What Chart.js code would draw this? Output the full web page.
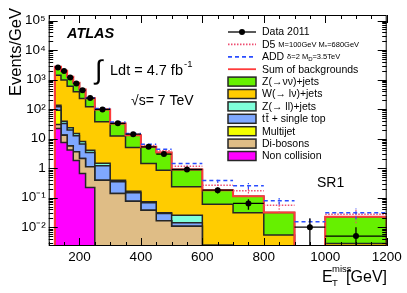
<!DOCTYPE html>
<html>
<head>
<meta charset="utf-8">
<script src="https://cdn.jsdelivr.net/npm/chart.js@4.4.1/dist/chart.umd.min.js"></script>
<style>
html, body { margin: 0; padding: 0; background: #fff; }
canvas { display: block; }
</style>
</head>
<body>
<canvas id="met-chart" width="407" height="293"></canvas>
<script>
// MET bin edges [GeV]
var binEdges = [120,140,160,180,200,220,250,300,350,400,450,500,600,700,800,900,1000,1200];

// backgrounds, Events/GeV per bin
var zNuNu    = [1300,1030,645,394,234,116,60,20.4,8.1,3.84,2.55,0.67,0.12,0.081,0.026,0,0.0196];
var wLNu     = [1284,923,579,372,222,116,35.7,11.8,4.85,1.37,0.82,0.21,0.0575,0.0306,0.0054,0,0.0028];
var zLL      = [17,6.6,3.9,2.5,1.5,0.67,0.28,0.048,0.02,0.0054,0.0015,0.0115,0,0,0,0,0];
var topQuark = [27.5,19.2,13.8,8.9,4.4,2.3,0.81,0.206,0.07,0.029,0.0127,0.0032,0,0,0,0,0];
var multijet = [62,0.3,0.1,0,0,0,0,0,0,0,0,0,0,0,0,0,0];
var diboson  = [8.2,5.7,1.5,1.8,1.47,0.89,0.39,0.138,0.076,0.0377,0.0164,0.0108,0.0024,0,0,0,0];
var nonColl  = [22,7.4,4.1,1.8,0.66,0.22,0,0,0,0,0,0,0,0,0,0,0];

// data and signals (signal + background)
var data2011 = [2600,1950,1180,740,440,237,98,33,14.2,5.3,3.0,0.9,0.18,0.064,null,0.01,0.005];
var dataErr  = [11.4,9.9,7.7,6.1,4.7,2.8,1.4,0.81,0.53,0.33,0.245,0.095,0.042,0.025,null,0.01,0.005];
var sigADD   = [2740,2010,1260,790,470,240,105,36.3,15,6.5,4.4,1.44,0.382,0.252,0.078,0.0152,0.0306];
var errADD   = [3,3,2,2,1.5,1,0.8,0.4,0.25,0.12,0.1,0.06,0.06,0.06,0.02,0.005,0.012];
var sigD5    = [2730,2000,1255,786,467,239,100,34.4,14.2,5.9,3.87,1.17,0.265,0.17,0.0557,null,0.0276];
var errD5    = [3,3,2,2,1.5,1,0.8,0.4,0.25,0.12,0.1,0.07,0.07,0.06,0.025,null,0.014];

var xTicks = [200,400,600,800,1000,1200];
var yTicks = [0.01,0.1,1,10,100,1000,10000,100000];
var yTickLabels = ['10\u207B\u00B2','10\u207B\u00B9','1','10','10\u00B2','10\u00B3','10\u2074','10\u2075'];

var stackLabels = ['Non collision','Di-bosons','Multijet','t\u200At\u0304 + single top','Z(\u2192 ll)+jets','W(\u2192 l\u03BD)+jets','Z(\u2192\u03BD\u03BD)+jets'];
var stackColors = ['#ff00ff','#dfbd86','#f4ff00','#7fa8ff','#7fffda','#ffcc00','#66f000'];

var FONT = "'Liberation Sans', Arial, Helvetica, sans-serif";
var yMin = 0.0023, yMax = 1.55e5;
var redSum = '#ff3b3b', blueADD = '#2a4dff', pinkD5 = '#ee4d70';

var stackLayers = [nonColl, diboson, multijet, topQuark, zLL, wLNu, zNuNu];
var cum = [];
var run = zNuNu.map(function () { return 0; });
stackLayers.forEach(function (layer) {
  run = run.map(function (v, i) { return v + layer[i]; });
  cum.push(run);
});
var bkgSum = cum[cum.length - 1];

function centre(i) { return (binEdges[i] + binEdges[i + 1]) / 2; }
function clampLow(v) { return v > yMin ? v : yMin; }

function histPoints(vals) {
  var n = binEdges.length - 1;
  var pts = [{x: binEdges[0], y: yMin}];
  vals.forEach(function (v, i) { pts.push({x: binEdges[i], y: clampLow(v)}); });
  pts.push({x: binEdges[n], y: clampLow(vals[n - 1])});
  pts.push({x: binEdges[n], y: yMin});
  return pts;
}
function binSegments(vals) {
  var pts = [];
  vals.forEach(function (v, i) {
    if (v == null) return;
    pts.push({x: binEdges[i], y: v}, {x: binEdges[i + 1], y: v}, {x: binEdges[i + 1], y: null});
  });
  return pts;
}
function errSegments(vals, errs) {
  var pts = [];
  vals.forEach(function (v, i) {
    if (v == null || !errs[i]) return;
    var c = centre(i);
    pts.push({x: c, y: clampLow(v - errs[i])}, {x: c, y: v + errs[i]}, {x: c, y: null});
  });
  return pts;
}

var datasets = [];
datasets.push({
  data: data2011.map(function (v, i) { return {x: centre(i), y: v}; }),
  showLine: false, pointRadius: 3, pointBackgroundColor: '#000', pointBorderWidth: 0
});
datasets.push({data: binSegments(data2011), borderColor: '#000', borderWidth: 1.3});
datasets.push({data: errSegments(data2011, dataErr), borderColor: '#000', borderWidth: 1.3});
datasets.push({data: binSegments(sigADD), borderColor: blueADD, borderWidth: 1.5, borderDash: [4, 3]});
datasets.push({data: errSegments(sigADD, errADD), borderColor: blueADD, borderWidth: 1.2, borderDash: [3, 2]});
datasets.push({data: binSegments(sigD5), borderColor: pinkD5, borderWidth: 1.5, borderDash: [1.5, 1.5]});
datasets.push({data: errSegments(sigD5, errD5), borderColor: pinkD5, borderWidth: 1.2, borderDash: [1.5, 1.5]});
datasets.push({data: histPoints(bkgSum), borderColor: redSum, borderWidth: 2, stepped: true});
cum.forEach(function (c, k) {
  datasets.push({
    data: histPoints(c), stepped: true, fill: 'start',
    backgroundColor: stackColors[k], borderColor: '#262626', borderWidth: 1.5
  });
});

function drawRuns(ctx, x, y, runs, align) {
  var total = 0;
  runs.forEach(function (r) {
    ctx.font = (r[3] || '') + ' ' + r[1] + 'px ' + FONT;
    r.w = ctx.measureText(r[0]).width;
    total += r.w;
  });
  var cx = align === 'right' ? x - total : x;
  ctx.textAlign = 'left';
  runs.forEach(function (r) {
    ctx.font = (r[3] || '') + ' ' + r[1] + 'px ' + FONT;
    ctx.fillText(r[0], cx, y + (r[2] || 0));
    cx += r.w;
  });
}

var rootStyle = {
  id: 'rootStyle',
  afterDatasetsDraw: function (chart) {
    var ctx = chart.ctx, a = chart.chartArea, xs = chart.scales.x, ys = chart.scales.y;
    ctx.save();
    ctx.strokeStyle = '#000';
    ctx.lineWidth = 1;
    ctx.strokeRect(a.left + 0.5, a.top + 0.5, a.right - a.left - 1, a.bottom - a.top - 1);
    ctx.beginPath();
    var v, px, len;
    for (v = 100; v <= 1200; v += 50) {
      px = Math.round(xs.getPixelForValue(v)) + 0.5;
      len = v % 200 === 0 ? 8 : 4;
      ctx.moveTo(px, a.bottom); ctx.lineTo(px, a.bottom - len);
      ctx.moveTo(px, a.top); ctx.lineTo(px, a.top + len);
    }
    for (var e = -3; e <= 5; e++) {
      for (var m = 1; m <= 9; m++) {
        v = m * Math.pow(10, e);
        if (v < yMin || v > yMax) continue;
        var py = Math.round(ys.getPixelForValue(v)) + 0.5;
        len = m === 1 ? 9 : 4.5;
        ctx.moveTo(a.left, py); ctx.lineTo(a.left + len, py);
        ctx.moveTo(a.right, py); ctx.lineTo(a.right - len, py);
      }
    }
    ctx.stroke();
    ctx.restore();
  },
  afterDraw: function (chart) {
    var ctx = chart.ctx;
    ctx.save();
    ctx.fillStyle = '#000';
    ctx.textBaseline = 'alphabetic';

    // axis titles
    drawRuns(ctx, 322, 282, [['E', 16]], 'left');
    drawRuns(ctx, 332, 272, [['miss', 9.5]], 'left');
    drawRuns(ctx, 332, 286, [['T', 9.5]], 'left');
    drawRuns(ctx, 387, 282, [['[GeV]', 16]], 'right');

    ctx.save();
    ctx.translate(21, 8);
    ctx.rotate(-Math.PI / 2);
    ctx.textAlign = 'right';
    ctx.font = '16.5px ' + FONT;
    ctx.fillText('Events/GeV', 0, 0);
    ctx.restore();

    // annotations
    drawRuns(ctx, 67, 38, [['ATLAS', 14.5, 0, 'italic bold']], 'left');
    ctx.font = '27px ' + FONT;
    ctx.fillText('\u222B', 95, 79);
    drawRuns(ctx, 110, 75, [['Ldt = 4.7 fb', 14.5]], 'left');
    drawRuns(ctx, 184, 67, [['-1', 9.5]], 'left');
    drawRuns(ctx, 131, 105, [['\u221As= 7 TeV', 14]], 'left');
    drawRuns(ctx, 317, 187, [['SR1', 14]], 'left');

    // legend
    var x0 = 228, x1 = 256, tx = 262, y0 = 32, dy = 12.4;
    var rows = [
      {kind: 'data', runs: [['Data 2011', 10.5]]},
      {kind: 'line', color: pinkD5, dash: [1.5, 1.5], runs: [['D5 ', 10.5], ['M=100GeV M', 7.5], ['*', 6, 2], ['=680GeV', 7.5]]},
      {kind: 'line', color: blueADD, dash: [4, 3], runs: [['ADD ', 10.5], ['\u03B4=2 M', 7.5], ['D', 6, 2], ['=3.5TeV', 7.5]]},
      {kind: 'line', color: redSum, dash: [], runs: [['Sum of backgrounds', 10.5]]}
    ];
    for (var k = stackLabels.length - 1; k >= 0; k--) {
      rows.push({kind: 'box', color: stackColors[k], runs: [[stackLabels[k], 10.5]]});
    }
    rows.forEach(function (r, i) {
      var y = y0 + i * dy;
      ctx.save();
      if (r.kind === 'box') {
        ctx.fillStyle = r.color;
        ctx.fillRect(x0, y - 4.5, x1 - x0, 9);
        ctx.strokeStyle = '#262626';
        ctx.lineWidth = 1.5;
        ctx.strokeRect(x0, y - 4.5, x1 - x0, 9);
      } else {
        ctx.strokeStyle = r.kind === 'data' ? '#000' : r.color;
        ctx.lineWidth = r.kind === 'data' ? 1.3 : 1.8;
        ctx.setLineDash(r.dash || []);
        ctx.beginPath();
        ctx.moveTo(x0, y); ctx.lineTo(x1, y);
        ctx.stroke();
        if (r.kind === 'data') {
          ctx.fillStyle = '#000';
          ctx.beginPath();
          ctx.arc((x0 + x1) / 2, y, 3, 0, Math.PI * 2);
          ctx.fill();
        }
      }
      ctx.restore();
      ctx.fillStyle = '#000';
      ctx.textBaseline = 'middle';
      drawRuns(ctx, tx, y + 0.5, r.runs, 'left');
    });
    ctx.restore();
  }
};

Chart.defaults.elements.point.radius = 0;
Chart.defaults.elements.point.hoverRadius = 0;
Chart.defaults.elements.line.tension = 0;

var chart = new Chart(document.getElementById('met-chart').getContext('2d'), {
  type: 'line',
  data: {datasets: datasets},
  options: {
    responsive: false,
    animation: false,
    events: [],
    layout: {padding: {top: 15, right: 20.3, bottom: 0, left: 0}},
    plugins: {legend: {display: false}, tooltip: {enabled: false}},
    scales: {
      x: {
        type: 'linear', min: 100, max: 1200,
        grid: {display: false, drawTicks: false}, border: {display: false},
        afterBuildTicks: function (s) { s.ticks = xTicks.map(function (v) { return {value: v}; }); },
        afterFit: function (s) { s.height = 47; },
        ticks: {
          color: '#000', padding: 3, maxRotation: 0, font: {family: FONT, size: 13.5},
          callback: function (v) { return String(v); }
        }
      },
      y: {
        type: 'logarithmic', min: yMin, max: yMax,
        grid: {display: false, drawTicks: false}, border: {display: false},
        afterBuildTicks: function (s) { s.ticks = yTicks.map(function (v) { return {value: v}; }); },
        afterFit: function (s) { s.width = 48.7; },
        ticks: {
          color: '#000', padding: 3, font: {family: FONT, size: 13.5},
          callback: function (v) { var i = yTicks.indexOf(v); return i >= 0 ? yTickLabels[i] : ''; }
        }
      }
    }
  },
  plugins: [rootStyle]
});
</script>
</body>
</html>
